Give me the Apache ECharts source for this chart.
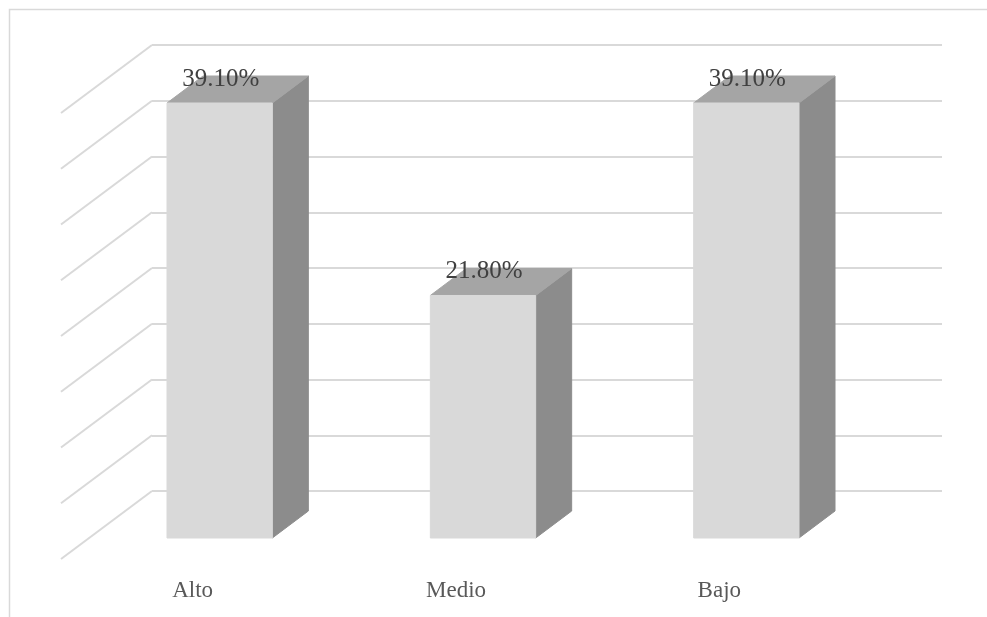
<!DOCTYPE html>
<html>
<head>
<meta charset="utf-8">
<style>html,body{margin:0;padding:0;background:#fff}#chart{width:987px;height:617px}</style>
<script src="https://cdn.jsdelivr.net/npm/echarts@6/dist/echarts.min.js"></script>
</head>
<body>
<div id="chart"></div>
<script>
// Nivel alcanzado por categoría, en porcentaje
const categories = ['Alto', 'Medio', 'Bajo'];
const percentages = [39.1, 21.8, 39.1];
const wallTicks = [0, 5, 10, 15, 20, 25, 30, 35, 40];

// Three parallel planes share one scale: floor edge, bar fronts, back wall
const plotWidth = 790;
const floor = { left: 61, top: 113, height: 446 };
const front = { left: 88, top: 93, height: 445 };
const wall = { left: 152, top: 45, height: 446 };
const barDepth = { x: 36, y: 27 };
const lineColor = '#d9d9d9';

const plane = p => ({ left: p.left, top: p.top, width: plotWidth, height: p.height, containLabel: false });
const xAxisOn = (gridIndex, labelled) => ({
  type: 'category', gridIndex, data: categories,
  axisLine: { show: false }, axisTick: { show: false },
  axisLabel: labelled
    ? { show: true, margin: 20, color: '#595959', fontFamily: 'Liberation Serif', fontSize: 23 }
    : { show: false }
});
const yAxisOn = (gridIndex, splitShown) => ({
  type: 'value', gridIndex, min: 0, max: 40, interval: 5,
  axisLine: { show: false }, axisTick: { show: false }, axisLabel: { show: false },
  splitLine: { show: splitShown, lineStyle: { color: lineColor, width: 2 } }
});

// Side wall: a slanted line from each back-wall gridline out to the floor edge
function renderDiagonal(params, api) {
  const y = api.coord([0, api.value(0)])[1];
  const dx = wall.left - floor.left;
  const dy = floor.top - wall.top;
  const x = params.coordSys.x;
  return {
    type: 'line',
    shape: { x1: x, y1: y, x2: x - dx, y2: y + dy },
    style: { stroke: lineColor, lineWidth: 2 }
  };
}

// A box in oblique projection: front, top and side faces plus the value label
function renderBar(params, api) {
  const value = api.value(1);
  const top = api.coord([api.value(0), value]);
  const base = api.coord([api.value(0), 0]);
  const half = api.size([1, 0])[0] * 0.2;
  const l = top[0] - half, r = top[0] + half;
  const dx = barDepth.x, dy = barDepth.y;
  const face = (points, fill) => ({
    type: 'polygon', shape: { points }, style: { fill, stroke: fill, lineWidth: 1 }
  });
  return {
    type: 'group',
    children: [
      face([[r, top[1]], [r + dx, top[1] - dy], [r + dx, base[1] - dy], [r, base[1]]], '#8c8c8c'),
      face([[l, top[1]], [l + dx, top[1] - dy], [r + dx, top[1] - dy], [r, top[1]]], '#a5a5a5'),
      face([[l, top[1]], [r, top[1]], [r, base[1]], [l, base[1]]], '#d9d9d9'),
      {
        type: 'text', z2: 10,
        style: {
          x: top[0] + 1, y: top[1] - 24,
          text: value.toFixed(2) + '%',
          align: 'center', verticalAlign: 'middle',
          fill: '#404040', fontFamily: 'Liberation Serif', fontSize: 25
        }
      }
    ]
  };
}

const chart = echarts.init(document.getElementById('chart'), null, { renderer: 'canvas' });
chart.setOption({
  animation: false,
  backgroundColor: '#ffffff',
  graphic: [{
    type: 'rect', silent: true, z: -1,
    shape: { x: 9.5, y: 9.5, width: 1000, height: 700 },
    style: { fill: 'none', stroke: lineColor, lineWidth: 1.5 }
  }],
  grid: [plane(floor), plane(wall), plane(front)],
  xAxis: [xAxisOn(0, true), xAxisOn(1, false), xAxisOn(2, false)],
  yAxis: [yAxisOn(0, false), yAxisOn(1, true), yAxisOn(2, false)],
  series: [
    {
      type: 'custom', xAxisIndex: 1, yAxisIndex: 1, z: 1, clip: false,
      data: wallTicks.map(t => [t]), encode: { y: 0 },
      renderItem: renderDiagonal
    },
    {
      type: 'custom', xAxisIndex: 2, yAxisIndex: 2, z: 5, clip: false,
      data: categories.map((c, i) => [i, percentages[i]]), encode: { x: 0, y: 1 },
      renderItem: renderBar
    }
  ]
});
</script>
</body>
</html>
